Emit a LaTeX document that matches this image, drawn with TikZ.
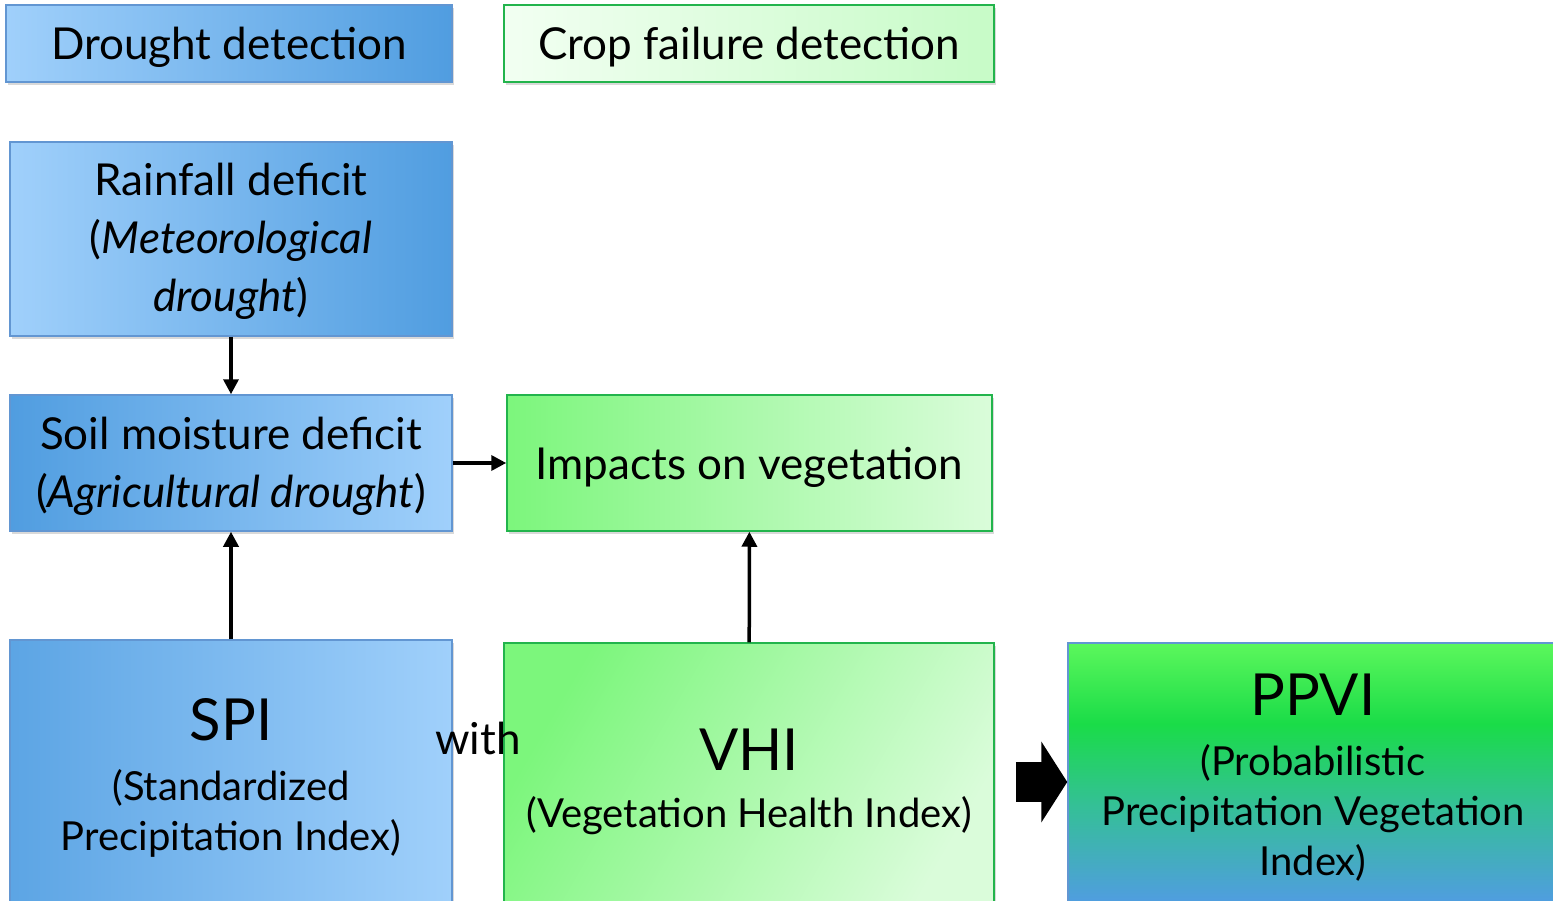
\documentclass[tikz,border=0pt]{standalone}
\usepackage{fontspec}
\setmainfont{Lato}
\usetikzlibrary{positioning,shadows,arrows.meta}

\definecolor{bluelt}{RGB}{160,208,251}
\definecolor{bluedk}{RGB}{80,157,224}
\definecolor{blueln}{RGB}{98,150,210}
\definecolor{greenst}{RGB}{124,246,124}
\definecolor{greenlt}{RGB}{218,252,218}
\definecolor{greenpl}{RGB}{242,255,242}
\definecolor{greenln}{RGB}{34,180,76}
\definecolor{greenmid}{RGB}{26,220,72}
\definecolor{greentop}{RGB}{92,247,92}
\definecolor{tealmid}{RGB}{52,192,150}

\newcommand\bigtxt{\fontsize{58}{70}\selectfont}

\pgfdeclareverticalshading{ppvishade}{100bp}{%
  color(0bp)=(bluedk); color(27bp)=(bluedk); color(45bp)=(tealmid);
  color(60bp)=(greenmid); color(75bp)=(greentop); color(100bp)=(greentop)}

\begin{document}
\begin{tikzpicture}[x=1pt,y=-1pt,
    box/.style={draw, rectangle, inner sep=0pt, align=center, line width=1.5pt,
      drop shadow={opacity=0.3, shadow xshift=2pt, shadow yshift=-3pt}},
    bluebox/.style={box, draw=blueln},
    greenbox/.style={box, draw=greenln},
    main/.style={font=\fontsize{44}{58}\selectfont},
    small/.style={font=\fontsize{40}{50}\selectfont},
    link/.style={line width=3.5pt, -{Triangle[length=15pt,width=15pt]}}]

  \useasboundingbox (0,0) rectangle (1553,901);

  % top row
  \node[bluebox, left color=bluelt, right color=bluedk, main, text height=40pt,
        minimum width=446, minimum height=77] (drought) at (229,43.5) {Drought detection};
  \node[greenbox, left color=greenpl, right color=greenlt!80!greenst, main, text height=40pt,
        minimum width=490, minimum height=77] (crop) at (749,43.5) {Crop failure detection};

  % left column
  \node[bluebox, left color=bluelt, right color=bluedk, main, text height=154pt,
        minimum width=442, minimum height=194] (rain) at (231,239)
        {Rainfall deficit\\(\textit{Meteorological}\\\textit{drought})};
  \node[bluebox, left color=bluedk, right color=bluelt, main, text height=98pt,
        minimum width=442, minimum height=136] (soil) at (231,463)
        {Soil moisture deficit\\(\textit{Agricultural drought})};
  \node[greenbox, left color=greenst, right color=greenlt, main, text height=41pt,
        minimum width=485, minimum height=136] (impact) at (749.5,463)
        {Impacts on vegetation};

  % bottom row
  \node[bluebox, left color=bluedk!85!bluelt, right color=bluelt, small,
        minimum width=442, minimum height=276] (spi) at (231,778)
        {{\bigtxt SPI}\\[10pt](Standardized\\Precipitation Index)};
  \node[greenbox, left color=greenst, right color=greenlt, shading angle=60, small,
        minimum width=490, minimum height=278] (vhi) at (749,782)
        {{\bigtxt VHI}\\[7pt](Vegetation Health Index)};
  \node[bluebox, shading=ppvishade, small,
        minimum width=490, minimum height=270] (ppvi) at (1313,778)
        {{\bigtxt PPVI}\\[10pt](Probabilistic\\Precipitation Vegetation\\Index)};

  \node[main] (with) at (478,738) {with};

  % links
  \draw[link] (rain) -- (soil);
  \draw[link] (soil) -- (impact);
  \draw[link] (spi) -- (soil);
  \draw[link] (vhi) -- (impact);
  \draw[line width=40pt, -{Triangle[length=26pt,width=80pt]}]
    ([xshift=21pt]vhi.east) -- (vhi.east -| ppvi.west);
\end{tikzpicture}
\end{document}
